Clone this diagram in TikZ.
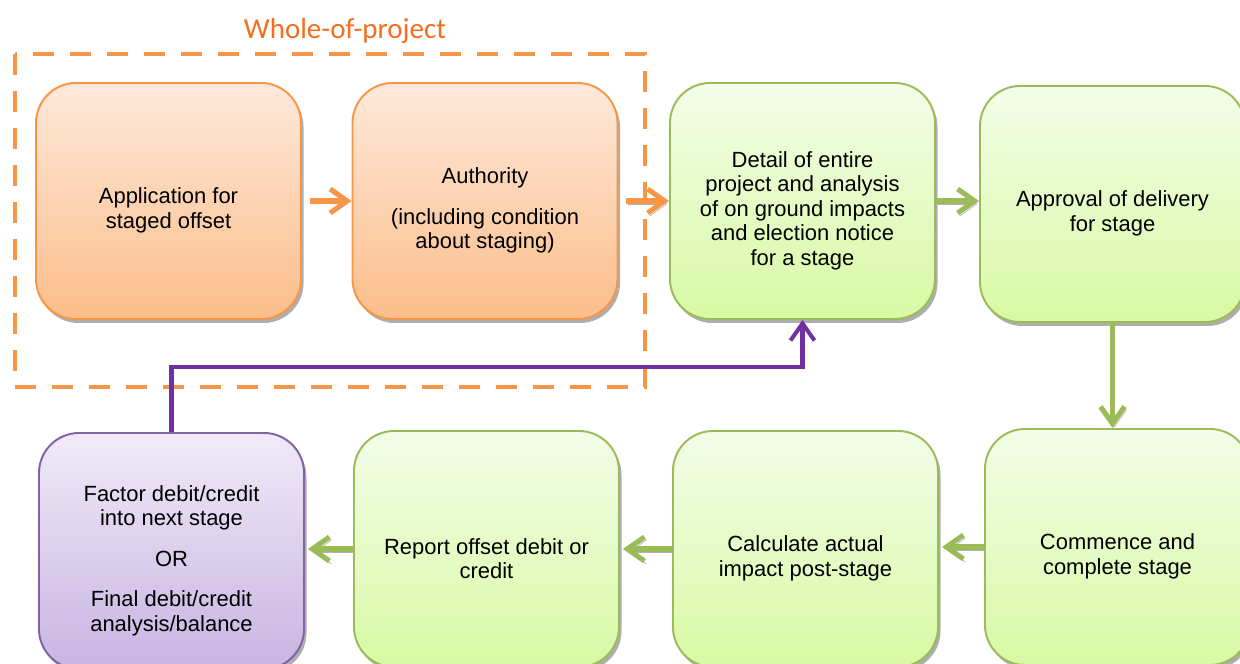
\documentclass[tikz,border=0pt]{standalone}
\usepackage{fontspec}
\setmainfont{Liberation Sans}
\newfontfamily\titlefont{Carlito}
\usetikzlibrary{arrows.meta,shadows}

\definecolor{orgline}{RGB}{247,150,70}
\definecolor{orgtop}{RGB}{254,233,218}
\definecolor{orgbot}{RGB}{251,189,138}
\definecolor{grnline}{RGB}{155,187,89}
\definecolor{grntop}{RGB}{243,253,232}
\definecolor{grnbot}{RGB}{216,249,164}
\definecolor{purline}{RGB}{128,100,162}
\definecolor{purtop}{RGB}{240,234,248}
\definecolor{purbot}{RGB}{200,180,226}
\definecolor{purarrow}{RGB}{112,48,160}
\definecolor{titleorg}{RGB}{244,110,30}

\tikzset{
  stagebox/.style={draw, rounded corners=0.8cm, minimum width=5.3cm, minimum height=4.72cm,
    line width=1.1pt, align=center, font=\fontsize{12.5}{14}\selectfont,
    drop shadow={shadow xshift=0.05cm, shadow yshift=-0.08cm, fill=black!45, opacity=0.7}},
  orgbox/.style={stagebox, draw=orgline, top color=orgtop, bottom color=orgbot},
  grnbox/.style={stagebox, draw=grnline, top color=grntop, bottom color=grnbot},
  purbox/.style={stagebox, draw=purline, top color=purtop, bottom color=purbot},
  % text sits a little below the middle of each box
  twolines/.style={text height=34pt},
  flow/.style={line width=2.9pt, -{Straight Barb[length=3.4mm, width=4.8mm]}},
  flowshadow/.style={preaction={draw=black!30, transform canvas={shift={(0.04cm,-0.06cm)}}}},
  wholeframe/.style={draw=orgline, line width=2.3pt, dash pattern=on 0.42cm off 0.32cm},
  wholetitle/.style={text=titleorg, font=\titlefont\fontsize{16.5}{18}\selectfont},
}

\begin{document}
\begin{tikzpicture}[x=0.2mm, y=-0.2mm]
\clip (0,0) rectangle (1240,664);
% Whole-of-project {{{
\draw[wholeframe] (15,54) rectangle (645,387);
\node[wholetitle] (whole) at (345,31) {Whole-of-project};
% }}}
% Top row {{{
\node[orgbox, twolines] (app) at (168.5,201) {Application for\\ staged offset};
\node[orgbox, text height=57pt] (auth) at (485,201) {Authority\\[9pt] (including condition\\ about staging)};
\node[grnbox, text height=76pt] (detail) at (802.5,201) {Detail of entire\\ project and analysis\\ of on ground impacts\\ and election notice\\ for a stage};
\node[grnbox, twolines] (approval) at (1112.5,204) {Approval of delivery\\ for stage};
% }}}
% Bottom row {{{
\node[grnbox, twolines] (commence) at (1117.5,547) {Commence and\\ complete stage};
\node[grnbox, twolines] (calc) at (805.5,549) {Calculate actual\\ impact post-stage};
\node[grnbox, twolines] (report) at (486.5,549) {Report offset debit or\\ credit};
\node[purbox, text height=94pt] (factor) at (171.5,551) {Factor debit/credit\\ into next stage\\[9pt] OR\\[9pt] Final debit/credit\\ analysis/balance};
% }}}
% Arrows {{{
\draw[flow, orgline, shorten <=1.6mm] (app) -- (auth);
\draw[flow, orgline, flowshadow, shorten <=1.6mm] (auth) -- (detail);
\draw[flow, grnline, flowshadow] (detail.east) -- (detail.east -| approval.west);
\draw[flow, grnline, flowshadow] (approval.south) -- (approval.south |- commence.north);
\draw[flow, grnline, flowshadow, shorten >=0.6mm] (commence.west) -- (commence.west -| calc.east);
\draw[flow, grnline, flowshadow, shorten >=0.6mm] (calc) -- (report);
\draw[flow, grnline, flowshadow, shorten >=0.6mm] (report.west) -- (report.west -| factor.east);
% back to the next stage
\coordinate (bend) at (171.5,367);
\draw[flow, purarrow, line width=2.3pt] (factor.north) -- (factor.north |- bend) -| (detail.south);
% }}}
\end{tikzpicture}
\end{document}
